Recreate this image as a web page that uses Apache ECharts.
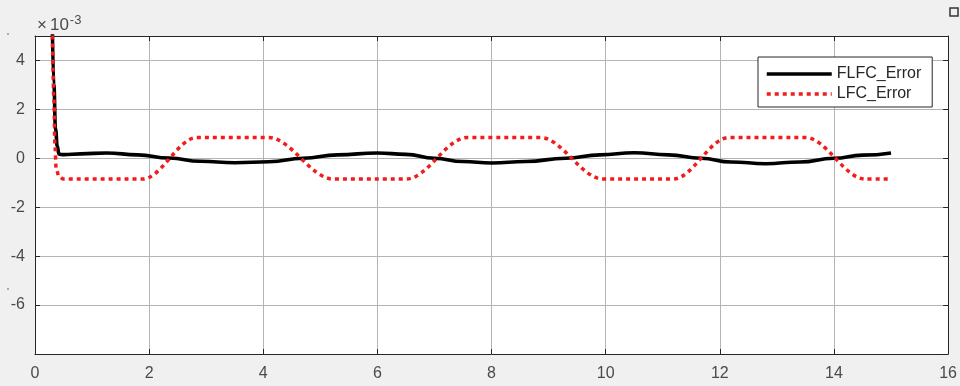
<!DOCTYPE html>
<html><head><meta charset="utf-8">
<script src="https://cdn.jsdelivr.net/npm/echarts@6/dist/echarts.min.js"></script>
<style>html,body{margin:0;padding:0;background:#f0f0f0}#c{width:960px;height:386px}</style>
</head><body><div id="c"></div>
<script>
// values in units of 1e-3
const xTicks = [0, 2, 4, 6, 8, 10, 12, 14, 16];
const yTicks = [-6, -4, -2, 0, 2, 4];
const seriesNames = ['FLFC_Error', 'LFC_Error'];

const flfcX = [0.30, 0.33, 0.36, 0.39, 0.42, 0.50, 0.80, 1.25, 1.80, 2.35, 2.90, 3.50, 4.10, 4.70, 5.30, 6.00, 6.50, 7.00, 7.50, 8.00, 8.60, 9.30, 9.90, 10.50, 11.10, 11.67, 12.20, 12.80, 13.40, 14.00, 14.50, 15.00];
const flfcY = [6.0, 3.0, 1.2, 0.5, 0.17, 0.15, 0.18, 0.22, 0.14, 0.01, -0.12, -0.18, -0.14, 0.00, 0.14, 0.22, 0.16, 0.00, -0.13, -0.19, -0.13, 0.00, 0.14, 0.23, 0.14, 0.00, -0.15, -0.22, -0.15, 0.00, 0.13, 0.22];

const lfcX = [0.30, 0.33, 0.35, 0.37, 0.42, 0.50, 1.88, 2.84, 4.09, 5.23, 6.50, 7.58, 8.85, 9.96, 11.18, 12.16, 13.50, 14.55, 14.98];
const lfcY = [6.0, 2.5, 0.5, -0.4, -0.75, -0.85, -0.85, 0.85, 0.85, -0.85, -0.85, 0.85, 0.85, -0.85, -0.85, 0.85, 0.85, -0.85, -0.85];

const zip = (xs, ys) => xs.map((x, i) => [x, ys[i]]);
const axisColor = '#262626';
const labelColor = '#4a4a4a';
const gridColor = '#b4b4b4';
const font = '"Liberation Sans", Arial, sans-serif';

const chart = echarts.init(document.getElementById('c'), null, {renderer: 'canvas'});
const baseX = {type: 'value', min: 0, max: 16, interval: 2};
const baseY = {type: 'value', min: -8, max: 5, interval: 2};
chart.setOption({
  backgroundColor: '#f0f0f0',
  animation: false,
  grid: {left: 35, right: 7, top: 36, bottom: 32, show: true, backgroundColor: '#ffffff', borderWidth: 0},
  xAxis: [
    Object.assign({}, baseX, {
      position: 'bottom',
      axisLine: {show: true, onZero: false, lineStyle: {color: axisColor, width: 1}},
      axisTick: {show: true, inside: true, length: 5, lineStyle: {color: axisColor}},
      splitLine: {show: true, lineStyle: {color: gridColor, width: 1}},
      axisLabel: {color: labelColor, fontSize: 16, fontFamily: font, margin: 12,
        formatter: v => xTicks.includes(v) ? String(v) : ''}
    }),
    Object.assign({}, baseX, {
      position: 'top',
      axisLine: {show: true, onZero: false, lineStyle: {color: axisColor, width: 1}},
      axisTick: {show: true, inside: true, length: 5, lineStyle: {color: axisColor}},
      splitLine: {show: false},
      axisLabel: {show: false}
    })
  ],
  yAxis: [
    Object.assign({}, baseY, {
      position: 'left',
      axisLine: {show: true, onZero: false, lineStyle: {color: axisColor, width: 1}},
      axisTick: {show: true, inside: true, length: 5, lineStyle: {color: axisColor}},
      splitLine: {show: true, lineStyle: {color: gridColor, width: 1}},
      axisLabel: {color: labelColor, fontSize: 16, fontFamily: font, margin: 10,
        showMinLabel: false, showMaxLabel: false,
        formatter: v => yTicks.includes(v) ? String(v) : ''}
    }),
    Object.assign({}, baseY, {
      position: 'right',
      axisLine: {show: true, onZero: false, lineStyle: {color: axisColor, width: 1}},
      axisTick: {show: true, inside: true, length: 5, lineStyle: {color: axisColor}},
      splitLine: {show: false},
      axisLabel: {show: false}
    })
  ],
  legend: {
    orient: 'vertical',
    left: 758, top: 57,
    padding: [9, 11, 5, 7],
    itemGap: 4,
    itemWidth: 65, itemHeight: 14,
    itemStyle: {opacity: 0},
    lineStyle: {width: 3.5},
    borderColor: axisColor, borderWidth: 1, borderRadius: 0,
    backgroundColor: '#ffffff',
    textStyle: {color: '#262626', fontSize: 16, fontFamily: font},
    data: seriesNames
  },
  series: [
    {
      name: seriesNames[0], type: 'line', xAxisIndex: 0, yAxisIndex: 0,
      data: zip(flfcX, flfcY), symbol: 'none', showSymbol: false,
      smooth: 0.5, smoothMonotone: 'x', clip: true,
      color: '#000000',
      lineStyle: {color: '#000000', width: 3.6}
    },
    {
      name: seriesNames[1], type: 'line', xAxisIndex: 0, yAxisIndex: 0,
      data: zip(lfcX, lfcY), symbol: 'none', showSymbol: false,
      smooth: 0.35, smoothMonotone: 'x', clip: true,
      color: '#f21c1c',
      lineStyle: {color: '#f21c1c', width: 3.5, type: [4, 4], cap: 'butt'}
    }
  ],
  graphic: [
    {type: 'text', left: 37, top: 14, style: {
      text: '{x|×}{a|10}{b|-3}',
      rich: {
        x: {fontSize: 17, fontFamily: font, fill: labelColor, verticalAlign: 'bottom', lineHeight: 20, padding: [0, 3, 0, 0]},
        a: {fontSize: 17, fontFamily: font, fill: labelColor, verticalAlign: 'bottom', lineHeight: 20},
        b: {fontSize: 13, fontFamily: font, fill: labelColor, verticalAlign: 'top', lineHeight: 14, padding: [0, 0, 0, 1]}
      }
    }},
    {type: 'rect', shape: {x: 950, y: 8, width: 8, height: 8}, style: {fill: 'none', stroke: '#333', lineWidth: 1.5}},
    {type: 'circle', shape: {cx: 8, cy: 34, r: 0.8}, style: {fill: '#555'}},
    {type: 'circle', shape: {cx: 8, cy: 289, r: 0.8}, style: {fill: '#555'}}
  ]
});
</script></body></html>
